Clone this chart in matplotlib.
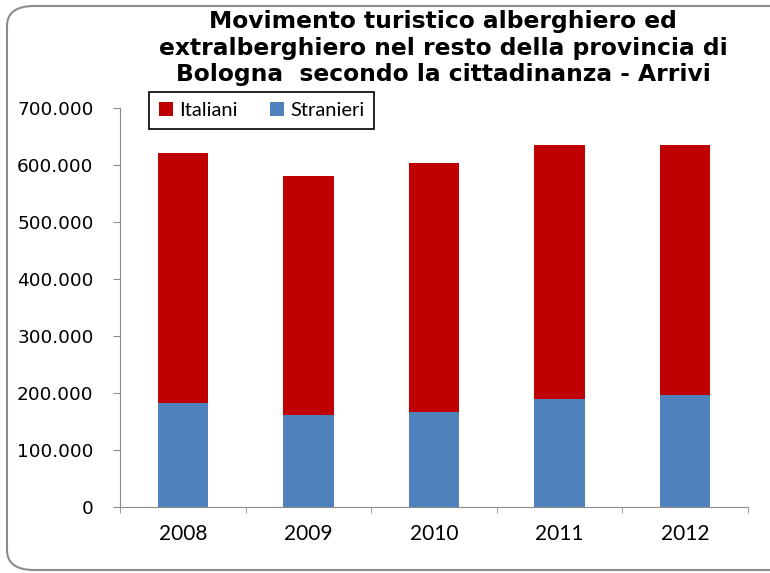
import matplotlib.pyplot as plt
from matplotlib.patches import FancyBboxPatch
from matplotlib.ticker import FuncFormatter

anni = ["2008", "2009", "2010", "2011", "2012"]
stranieri = [182500, 161000, 166500, 189500, 197000]
italiani = [438500, 420000, 436500, 445000, 437500]

ROSSO = "#C00000"
BLU = "#4F81BD"

fig = plt.figure(figsize=(7.7, 5.73), dpi=100)

# rounded frame around the whole chart
cornice = FancyBboxPatch((7 / 770, 3 / 573), 1.2, 1 - 9 / 573,
                         boxstyle="round,pad=0,rounding_size=0.035",
                         transform=fig.transFigure, fill=False,
                         edgecolor="#8c8c8c", linewidth=1.5, clip_on=False)
fig.patches.append(cornice)

ax = fig.add_axes([120 / 770, 1 - 507 / 573, 628 / 770, 399 / 573])
x = range(len(anni))
ax.bar(x, stranieri, width=0.4, color=BLU, label="Stranieri")
ax.bar(x, italiani, width=0.4, bottom=stranieri, color=ROSSO, label="Italiani")

ax.set_xlim(-0.5, len(anni) - 0.5)
ax.set_ylim(0, 700000)
ax.set_yticks(range(0, 700001, 100000))
ax.yaxis.set_major_formatter(FuncFormatter(
    lambda v, p: "0" if v == 0 else f"{int(v):,}".replace(",", ".")))
ax.set_xticks(list(x))
ax.set_xticklabels(anni, fontfamily="Lato", fontsize=15)
ax.set_xticks([i - 0.5 for i in range(len(anni) + 1)], minor=True)
ax.tick_params(axis="x", which="major", length=0, pad=12)
ax.tick_params(axis="x", which="minor", length=4.5, color="#8c8c8c")
ax.tick_params(axis="y", length=5, color="#8c8c8c", labelsize=13.3, pad=14)
for lbl in ax.get_yticklabels():
    lbl.set_fontfamily("DejaVu Sans")

for s in ["top", "right"]:
    ax.spines[s].set_visible(False)
for s in ["left", "bottom"]:
    ax.spines[s].set_color("#8c8c8c")

handles, labels = ax.get_legend_handles_labels()
leg = ax.legend(handles[::-1], labels[::-1], ncol=2, loc="upper left",
                bbox_to_anchor=(29 / 628, 1 + 16 / 399),
                fancybox=False, edgecolor="black", framealpha=1,
                prop={"family": "Lato", "size": 14.5},
                handlelength=0.7, handleheight=0.7, handletextpad=0.3,
                columnspacing=1.6, borderpad=0.5, borderaxespad=0)
leg.get_frame().set_linewidth(1.2)

fig.text(443 / 770, 1 - 48 / 573,
         "Movimento turistico alberghiero ed\n"
         "extralberghiero nel resto della provincia di\n"
         "Bologna  secondo la cittadinanza - Arrivi",
         ha="center", va="center", fontsize=16.8, fontweight="bold",
         linespacing=1.17, fontfamily="DejaVu Sans")

fig.savefig("out.png", dpi=100)
